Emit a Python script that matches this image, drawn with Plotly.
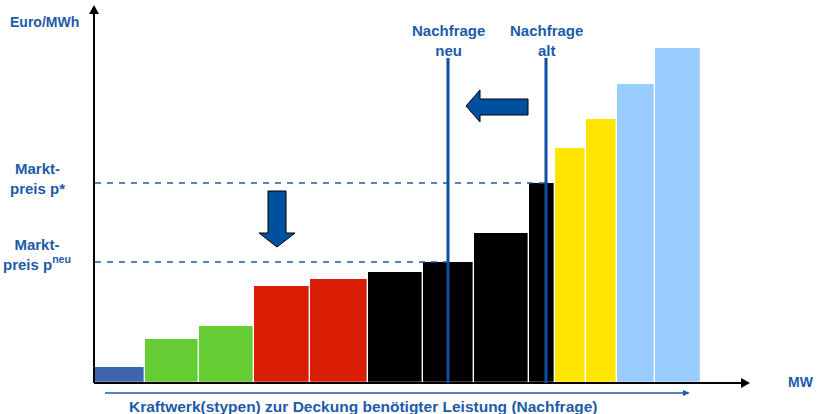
import plotly.graph_objects as go

# Merit order: capacity (MW) and marginal price (Euro/MWh) per plant block
capacity = [50, 54, 55, 56, 58, 55, 51, 55, 26, 31, 31, 38, 46]
price = [16, 44, 57, 97, 104, 111, 121, 150, 200, 235, 264, 299, 335]
plant_colors = ["#3D66AF", "#66CC33", "#66CC33", "#D91E05", "#D91E05",
                "#000000", "#000000", "#000000", "#000000",
                "#FFE500", "#FFE500", "#99CCFF", "#99CCFF"]

demand_new = 354   # MW
demand_old = 452   # MW
price_old = 200    # p*
price_new = 121    # p neu

BLUE = "#0B4EA2"
TEXT_BLUE = "#1C5BAA"
FONT = "Liberation Sans, Arial, sans-serif"

# bar centres from cumulative capacity
start = 1
centers = []
for w in capacity:
    centers.append(start + w / 2)
    start += w

fig = go.Figure()
fig.add_trace(go.Bar(
    x=centers, y=price, width=capacity,
    marker=dict(color=plant_colors, line=dict(color="white", width=1.2)),
    hoverinfo="skip", showlegend=False,
))

shapes = []

def line(x0, y0, x1, y1, color, width, dash="solid"):
    return dict(type="line", xref="x", yref="y", x0=x0, y0=y0, x1=x1, y1=y1,
                line=dict(color=color, width=width, dash=dash), layer="above")

def path(points, fill, outline=None, width=0):
    d = "M " + " L ".join(f"{x},{y}" for x, y in points) + " Z"
    return dict(type="path", xref="x", yref="y", path=d, fillcolor=fill,
                line=dict(color=outline or fill, width=width), layer="above")

# axes with arrowheads
y_top, x_end = 378, 656
shapes.append(line(0, 0, 0, y_top - 6, "black", 2))
shapes.append(path([(0, y_top), (-5, y_top - 9), (5, y_top - 9)], "black"))
shapes.append(line(0, 0, x_end - 6, 0, "black", 2))
shapes.append(path([(x_end, 0), (x_end - 9, 5), (x_end - 9, -5)], "black"))

# supply-direction arrow under the x axis
shapes.append(line(11, -10, 590, -10, "#1F5AA6", 1.5))
shapes.append(path([(596, -10), (589, -7), (589, -13)], "#1F5AA6"))

# price levels (dashed)
for p, d in [(price_old, demand_old), (price_new, demand_new)]:
    shapes.append(line(1, p, d, p, "#1F5AA6", 1.5, "6px,6px"))
# demand lines
for d in [demand_new, demand_old]:
    shapes.append(line(d, 0, d, 325, BLUE, 3))

# block arrow pointing left (demand shift)
tip_x, mid_y = 372, 277
shapes.append(path([(tip_x, mid_y), (tip_x + 14, mid_y + 16), (tip_x + 14, mid_y + 7),
                    (tip_x + 62, mid_y + 7), (tip_x + 62, mid_y - 9), (tip_x + 14, mid_y - 9),
                    (tip_x + 14, mid_y - 16)], "#0050A0", "black", 1))
# block arrow pointing down (price drop)
cx, tip_y = 183, 136
shapes.append(path([(cx, tip_y), (cx - 18, tip_y + 14), (cx - 9, tip_y + 14),
                    (cx - 9, tip_y + 56), (cx + 9, tip_y + 56), (cx + 9, tip_y + 14),
                    (cx + 18, tip_y + 14)], "#0050A0", "black", 1))

def label(x, y, text, size=15, **kw):
    return dict(x=x, y=y, xref="x", yref="y", text=text, showarrow=False,
                font=dict(family=FONT, size=size, color=TEXT_BLUE, weight="bold"), **kw)

annotations = [
    label(-50, 361, "Euro/MWh", size=14),
    label(-57, 205, "Markt-<br>preis p*", align="center"),
    label(-57, 129, "Markt-<br>preis p<sup>neu</sup>", align="center"),
    label(demand_new, 343, "Nachfrage<br>neu", align="center"),
    label(demand_old, 343, "Nachfrage<br>alt", align="center"),
    label(707, 1, "MW", size=14),
    label(269, -23, "Kraftwerk(stypen) zur Deckung benötigter Leistung (Nachfrage)", size=15.5),
]

fig.update_layout(
    width=817, height=414,
    margin=dict(l=0, r=0, t=0, b=0),
    paper_bgcolor="white", plot_bgcolor="white",
    xaxis=dict(range=[-94, 723], visible=False, fixedrange=True),
    yaxis=dict(range=[-31, 383], visible=False, fixedrange=True),
    bargap=0, shapes=shapes, annotations=annotations,
)

fig.write_html("out.html")
